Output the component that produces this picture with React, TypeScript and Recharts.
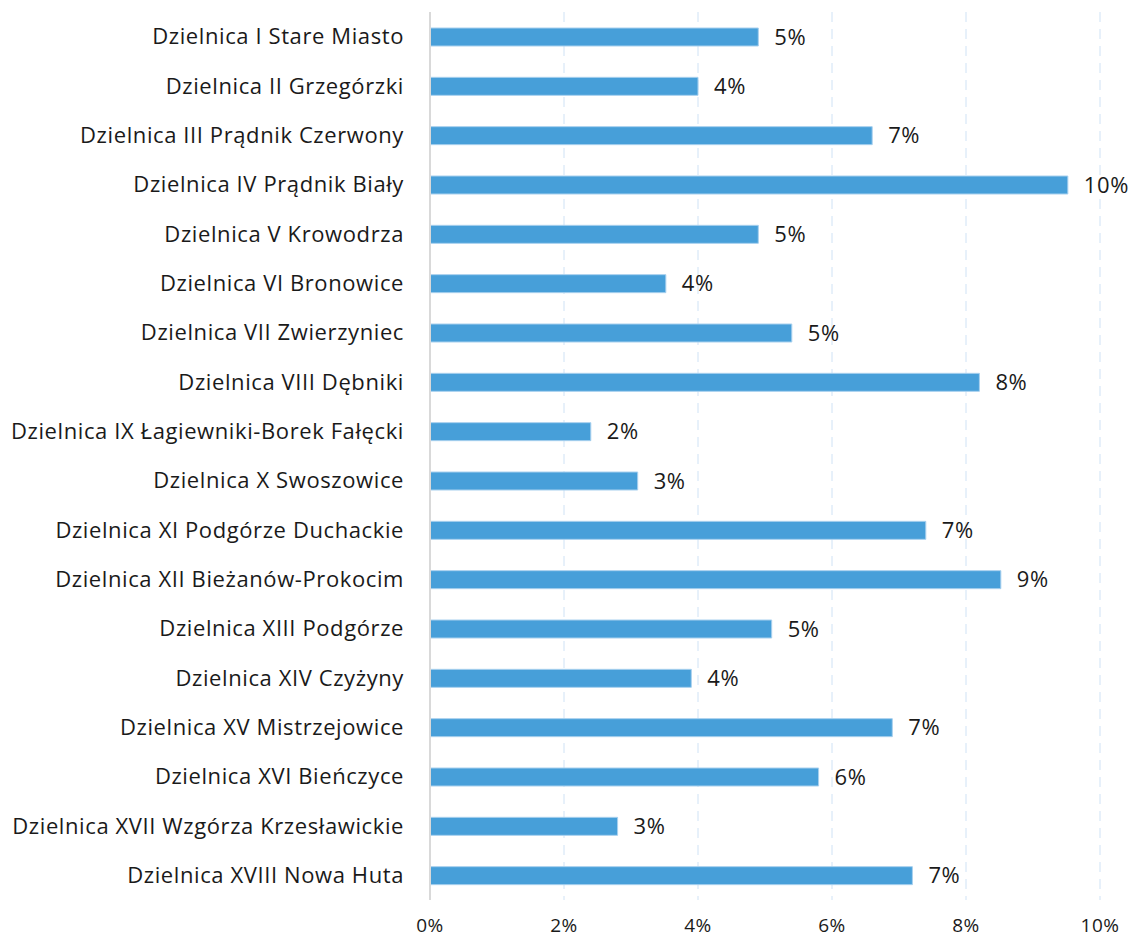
import React from 'react';
import { BarChart, Bar, XAxis, YAxis, CartesianGrid, LabelList } from 'recharts';

// districts, top to bottom
const districts = [
  'Dzielnica I Stare Miasto',
  'Dzielnica II Grzegórzki',
  'Dzielnica III Prądnik Czerwony',
  'Dzielnica IV Prądnik Biały',
  'Dzielnica V Krowodrza',
  'Dzielnica VI Bronowice',
  'Dzielnica VII Zwierzyniec',
  'Dzielnica VIII Dębniki',
  'Dzielnica IX Łagiewniki-Borek Fałęcki',
  'Dzielnica X Swoszowice',
  'Dzielnica XI Podgórze Duchackie',
  'Dzielnica XII Bieżanów-Prokocim',
  'Dzielnica XIII Podgórze',
  'Dzielnica XIV Czyżyny',
  'Dzielnica XV Mistrzejowice',
  'Dzielnica XVI Bieńczyce',
  'Dzielnica XVII Wzgórza Krzesławickie',
  'Dzielnica XVIII Nowa Huta',
];

// share in percent
const shares = [4.9, 4.0, 6.6, 9.52, 4.9, 3.52, 5.4, 8.2, 2.4, 3.1, 7.4, 8.52, 5.1, 3.9, 6.9, 5.8, 2.8, 7.2];

const xTicks = [0, 2, 4, 6, 8, 10];

const data = districts.map((name, i) => ({ name, value: shares[i] }));

const FONT = '"Open Sans", "Noto Sans", sans-serif';
const textStyle = { fontSize: 22, fill: '#1a1a1a', fontFamily: FONT, letterSpacing: 0.6 };
const xTickStyle = { fontSize: 19, fill: '#1a1a1a', fontFamily: FONT, letterSpacing: 0.5 };

const App: React.FC = () => {
  return (
    <div style={{ width: 1132, height: 940, background: '#fff' }}>
      <style>{'body{margin:0}'}</style>
      <BarChart
        width={1132}
        height={940}
        data={data}
        layout="vertical"
        margin={{ top: 12, right: 32, left: 0, bottom: 10 }}
        barCategoryGap={0}
      >
        <CartesianGrid horizontal={false} stroke="#CFE2F5" strokeDasharray="10 7" />
        <XAxis
          type="number"
          domain={[0, 10]}
          ticks={xTicks}
          tickFormatter={(v: number) => `${v}%`}
          axisLine={false}
          tickLine={false}
          height={30}
          tickMargin={13}
          tick={xTickStyle}
        />
        <YAxis
          type="category"
          dataKey="name"
          width={430}
          axisLine={{ stroke: '#D9D9D9', strokeWidth: 2 }}
          tickLine={false}
          tickMargin={20}
          interval={0}
          tick={textStyle}
        />
        <Bar dataKey="value" fill="#479FD9" stroke="#A8D0EE" strokeWidth={1} barSize={18} isAnimationActive={false}>
          <LabelList
            dataKey="value"
            position="right"
            offset={16}
            formatter={(v: number) => `${Math.round(v)}%`}
            style={textStyle}
          />
        </Bar>
      </BarChart>
    </div>
  );
};

export default App;
